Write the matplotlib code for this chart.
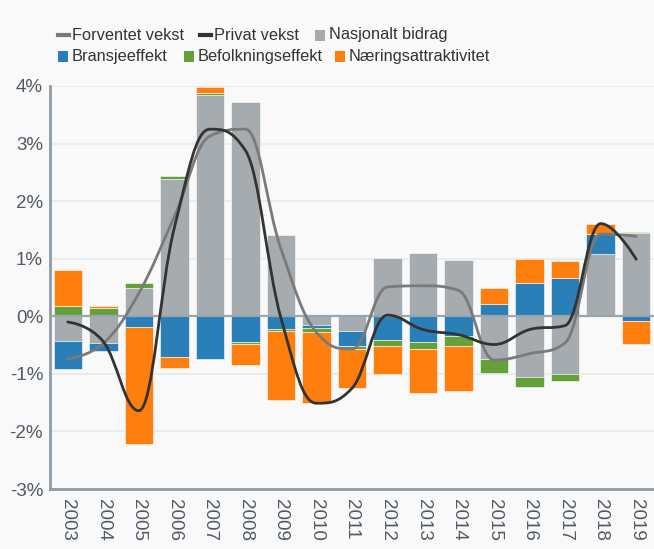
import matplotlib
matplotlib.use("Agg")
import matplotlib.pyplot as plt
from matplotlib.path import Path
from matplotlib.patches import PathPatch, Rectangle
from matplotlib.lines import Line2D
import numpy as np

plt.rcParams['font.family'] = ['Liberation Sans', 'DejaVu Sans']

years = ['2003', '2004', '2005', '2006', '2007', '2008', '2009', '2010', '2011',
         '2012', '2013', '2014', '2015', '2016', '2017', '2018', '2019']
nasjonalt = [-0.43, -0.47, 0.49, 2.39, 3.85, 3.73, 1.42, -0.16, -0.26, 1.02, 1.10, 0.97, -0.74, -1.05, -1.00, 1.09, 1.44]
bransje = [-0.48, -0.14, -0.18, -0.70, -0.74, -0.45, -0.22, -0.04, -0.25, -0.42, -0.44, -0.34, 0.22, 0.57, 0.66, 0.34, -0.08]
befolkning = [0.17, 0.14, 0.09, 0.04, 0.02, -0.03, -0.03, -0.08, -0.06, -0.09, -0.13, -0.18, -0.24, -0.17, -0.12, 0.00, 0.03]
naering = [0.64, 0.03, -2.04, -0.19, 0.12, -0.37, -1.20, -1.23, -0.68, -0.49, -0.76, -0.77, 0.27, 0.42, 0.30, 0.18, -0.40]
forventet = [-0.74, -0.47, 0.40, 1.73, 3.13, 3.25, 1.17, -0.28, -0.57, 0.51, 0.53, 0.45, -0.76, -0.65, -0.46, 1.43, 1.39]
privat = [-0.10, -0.44, -1.64, 1.54, 3.25, 2.88, -0.03, -1.51, -1.25, 0.02, -0.23, -0.32, -0.49, -0.23, -0.16, 1.61, 0.99]
yticks = [-3, -2, -1, 0, 1, 2, 3, 4]

C_GRAY = '#a6abaf'
C_BLUE = '#2b7fb8'
C_GREEN = '#66a03a'
C_ORANGE = '#ff7f0e'
C_FORV = '#7a7a7a'
C_PRIV = '#333333'
BG = '#f9f9f9'
TXT = '#505a64'

W, H = 654, 549
fig = plt.figure(figsize=(W / 100, H / 100), dpi=100, facecolor=BG)
ax = fig.add_axes([50 / W, (H - 489) / H, (W - 50) / W, (489 - 86) / H])
ax.set_facecolor(BG)

x = np.arange(len(years))
series = [(nasjonalt, C_GRAY), (bransje, C_BLUE), (befolkning, C_GREEN), (naering, C_ORANGE)]
pos_b = np.zeros(len(x))
neg_b = np.zeros(len(x))
for vals, col in series:
    v = np.array(vals, dtype=float)
    bottoms = np.where(v >= 0, pos_b, neg_b)
    ax.bar(x, v, bottom=bottoms, width=0.8, color=col, edgecolor='#ffffff',
           linewidth=0.4, zorder=2)
    pos_b = pos_b + np.where(v >= 0, v, 0)
    neg_b = neg_b + np.where(v < 0, v, 0)


def hc_spline(xs, ys, smoothing=1.5):
    n = len(xs)
    lc = [None] * n
    rc = [None] * n
    d = smoothing + 1
    for i in range(1, n - 1):
        px, py = xs[i], ys[i]
        lx, ly = xs[i - 1], ys[i - 1]
        nx, ny = xs[i + 1], ys[i + 1]
        lcx = (smoothing * px + lx) / d
        lcy = (smoothing * py + ly) / d
        rcx = (smoothing * px + nx) / d
        rcy = (smoothing * py + ny) / d
        if rcx != lcx:
            corr = ((rcy - lcy) * (rcx - px)) / (rcx - lcx) + py - rcy
            lcy += corr
            rcy += corr
        if lcy > ly and lcy > py:
            lcy = max(ly, py)
            rcy = 2 * py - lcy
        elif lcy < ly and lcy < py:
            lcy = min(ly, py)
            rcy = 2 * py - lcy
        if rcy > ny and rcy > py:
            rcy = max(ny, py)
            lcy = 2 * py - rcy
        elif rcy < ny and rcy < py:
            rcy = min(ny, py)
            lcy = 2 * py - rcy
        lc[i] = (lcx, lcy)
        rc[i] = (rcx, rcy)
    verts = [(xs[0], ys[0])]
    codes = [Path.MOVETO]
    for i in range(1, n):
        c1 = rc[i - 1] if rc[i - 1] is not None else (xs[i - 1], ys[i - 1])
        c2 = lc[i] if lc[i] is not None else (xs[i], ys[i])
        verts += [c1, c2, (xs[i], ys[i])]
        codes += [Path.CURVE4] * 3
    return Path(verts, codes)


ax.axhline(0, color='#9aa6ae', lw=1.6, zorder=3)
for vals, col, z in [(forventet, C_FORV, 4), (privat, C_PRIV, 5)]:
    p = hc_spline(list(x.astype(float)), list(vals))
    ax.add_patch(PathPatch(p, facecolor='none', edgecolor=col, lw=2.0, zorder=z,
                           capstyle='round', joinstyle='round'))

ax.set_xlim(-0.5, len(years) - 0.5)
ax.set_ylim(-3, 4)
ax.set_yticks(yticks)
ax.set_yticklabels([f'{t}%' for t in yticks])
ax.set_xticks(x)
ax.set_xticklabels(years, rotation=-90)
ax.tick_params(axis='both', length=0, labelsize=13.5, colors=TXT)
ax.tick_params(axis='y', pad=5)
ax.tick_params(axis='x', pad=7)
ax.grid(axis='y', color='#e6e9ea', lw=1.2, zorder=0)
ax.set_axisbelow(True)
for s in ['top', 'right']:
    ax.spines[s].set_visible(False)
for s in ['left', 'bottom']:
    ax.spines[s].set_color('#8f9ba4')
    ax.spines[s].set_linewidth(2)

# manual legend (pixel positions)
def fx(px):
    return px / W


def fy(py):
    return 1 - py / H


legend_items = [
    ('line', C_FORV, 58, 35, 'Forventet vekst'),
    ('line', C_PRIV, 200, 35, 'Privat vekst'),
    ('box', C_GRAY, 315, 35, 'Nasjonalt bidrag'),
    ('box', C_BLUE, 58, 56, 'Bransjeeffekt'),
    ('box', C_GREEN, 184, 56, 'Befolkningseffekt'),
    ('box', C_ORANGE, 335, 56, 'Næringsattraktivitet'),
]
for kind, col, px, py, label in legend_items:
    if kind == 'line':
        fig.add_artist(Line2D([fx(px), fx(px + 11)], [fy(py), fy(py)], color=col, lw=3,
                              transform=fig.transFigure))
    else:
        fig.add_artist(Rectangle((fx(px), fy(py + 5.5)), 10 / W, 11 / H, facecolor=col,
                                 edgecolor='none', transform=fig.transFigure))
    fig.text(fx(px + 14), fy(py), label, fontsize=11.8, color='#333333', va='center', ha='left')

fig.savefig('out.png', dpi=100, facecolor=BG)
